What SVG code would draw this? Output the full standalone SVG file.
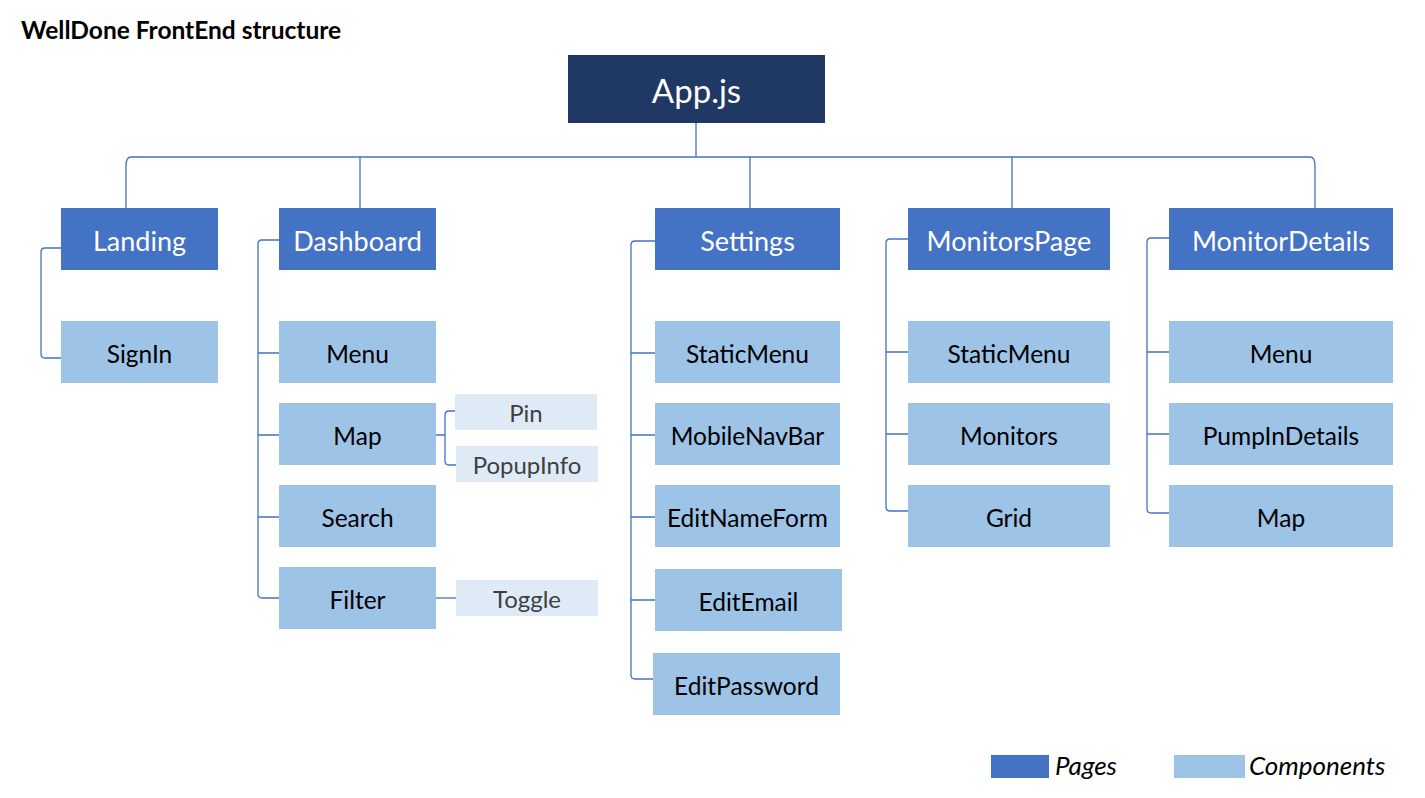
<svg xmlns="http://www.w3.org/2000/svg" width="1425" height="798" viewBox="0 0 1425 798">
<style>
text{font-family:Lato,"Open Sans","Liberation Sans",sans-serif;text-anchor:middle;dominant-baseline:central}
.page{fill:#4472C4}
.comp{fill:#9DC3E6}
.sub{fill:#DEEBF7}
.pt{fill:#fff;font-size:27px}
.ct{fill:#000;font-size:24.5px}
.st{fill:#404040;font-size:24px}
.lg{text-anchor:start;font-style:italic;font-size:26px;fill:#000}
.ln{fill:none;stroke:#4472C4;stroke-width:1.3}
</style>
<rect width="1425" height="798" fill="#fff"/>
<text x="21" y="29" style="text-anchor:start;font-weight:bold;font-size:24.5px;fill:#000">WellDone FrontEnd structure</text>

<g id="connectors" class="ln">
<path d="M696 123V157"/>
<path d="M126 208V166Q126 157 131 157H1310Q1315 157 1315 166V208"/>
<path d="M360 157V208"/>
<path d="M750 157V208"/>
<path d="M1012 157V208"/>
<path d="M61 248H45Q41 248 41 252V354Q41 358 45 358H61"/>
<path d="M279 240H262Q258 240 258 244V594Q258 598 262 598H279"/>
<path d="M258 353H279M258 435H279M258 517H279"/>
<path d="M436 435H445M455 411H449Q445 411 445 415V461Q445 465 449 465H456"/>
<path d="M436 598H456"/>
<path d="M655 241H635Q631 241 631 245V675Q631 679 635 679H653"/>
<path d="M631 353H655M631 435H655M631 517H655M631 600H655"/>
<path d="M908 239H890Q886 239 886 243V507Q886 511 890 511H908"/>
<path d="M886 352H908M886 434H908"/>
<path d="M1169 238H1151Q1147 238 1147 242V509Q1147 513 1151 513H1169"/>
<path d="M1147 352H1169M1147 434H1169"/>
</g>

<g id="app"><rect x="568" y="55" width="257" height="68" fill="#203864"/><text x="696.5" y="90" style="fill:#fff;font-size:33px">App.js</text></g>

<g id="landing"><rect class="page" x="61" y="208" width="157" height="62"/><text class="pt" x="139.5" y="240">Landing</text></g>
<g id="dashboard"><rect class="page" x="279" y="208" width="157" height="62"/><text class="pt" x="357.5" y="240">Dashboard</text></g>
<g id="settings"><rect class="page" x="655" y="208" width="185" height="62"/><text class="pt" x="747.5" y="240">Settings</text></g>
<g id="monitorspage"><rect class="page" x="908" y="208" width="202" height="62"/><text class="pt" x="1009" y="240">MonitorsPage</text></g>
<g id="monitordetails"><rect class="page" x="1169" y="208" width="224" height="62"/><text class="pt" x="1281" y="240">MonitorDetails</text></g>

<g id="signin"><rect class="comp" x="61" y="321" width="157" height="62"/><text class="ct" x="139.5" y="353">SignIn</text></g>

<g id="dash-menu"><rect class="comp" x="279" y="321" width="157" height="62"/><text class="ct" x="357.5" y="353">Menu</text></g>
<g id="dash-map"><rect class="comp" x="279" y="403" width="157" height="62"/><text class="ct" x="357.5" y="435">Map</text></g>
<g id="dash-search"><rect class="comp" x="279" y="485" width="157" height="62"/><text class="ct" x="357.5" y="517">Search</text></g>
<g id="dash-filter"><rect class="comp" x="279" y="567" width="157" height="62"/><text class="ct" x="357.5" y="599">Filter</text></g>

<g id="pin"><rect class="sub" x="455" y="394" width="142" height="36"/><text class="st" x="526" y="412">Pin</text></g>
<g id="popupinfo"><rect class="sub" x="456" y="446" width="142" height="36"/><text class="st" x="527" y="464">PopupInfo</text></g>
<g id="toggle"><rect class="sub" x="456" y="580" width="142" height="36"/><text class="st" x="527" y="598">Toggle</text></g>

<g id="set-staticmenu"><rect class="comp" x="655" y="321" width="185" height="62"/><text class="ct" x="747.5" y="353">StaticMenu</text></g>
<g id="set-mobilenavbar"><rect class="comp" x="655" y="403" width="185" height="62"/><text class="ct" x="747.5" y="435">MobileNavBar</text></g>
<g id="set-editnameform"><rect class="comp" x="655" y="485" width="185" height="62"/><text class="ct" x="747.5" y="517">EditNameForm</text></g>
<g id="set-editemail"><rect class="comp" x="655" y="569" width="187" height="62"/><text class="ct" x="748.5" y="601">EditEmail</text></g>
<g id="set-editpassword"><rect class="comp" x="653" y="653" width="187" height="62"/><text class="ct" x="746.5" y="685">EditPassword</text></g>

<g id="mp-staticmenu"><rect class="comp" x="908" y="321" width="202" height="62"/><text class="ct" x="1009" y="353">StaticMenu</text></g>
<g id="mp-monitors"><rect class="comp" x="908" y="403" width="202" height="62"/><text class="ct" x="1009" y="435">Monitors</text></g>
<g id="mp-grid"><rect class="comp" x="908" y="485" width="202" height="62"/><text class="ct" x="1009" y="517">Grid</text></g>

<g id="md-menu"><rect class="comp" x="1169" y="321" width="224" height="62"/><text class="ct" x="1281" y="353">Menu</text></g>
<g id="md-pumpindetails"><rect class="comp" x="1169" y="403" width="224" height="62"/><text class="ct" x="1281" y="435">PumpInDetails</text></g>
<g id="md-map"><rect class="comp" x="1169" y="485" width="224" height="62"/><text class="ct" x="1281" y="517">Map</text></g>

<g id="legend">
<rect class="page" x="991" y="755" width="58" height="23"/>
<text class="lg" x="1055" y="765">Pages</text>
<rect class="comp" x="1174" y="755" width="71" height="23"/>
<text class="lg" x="1249" y="765">Components</text>
</g>
</svg>
